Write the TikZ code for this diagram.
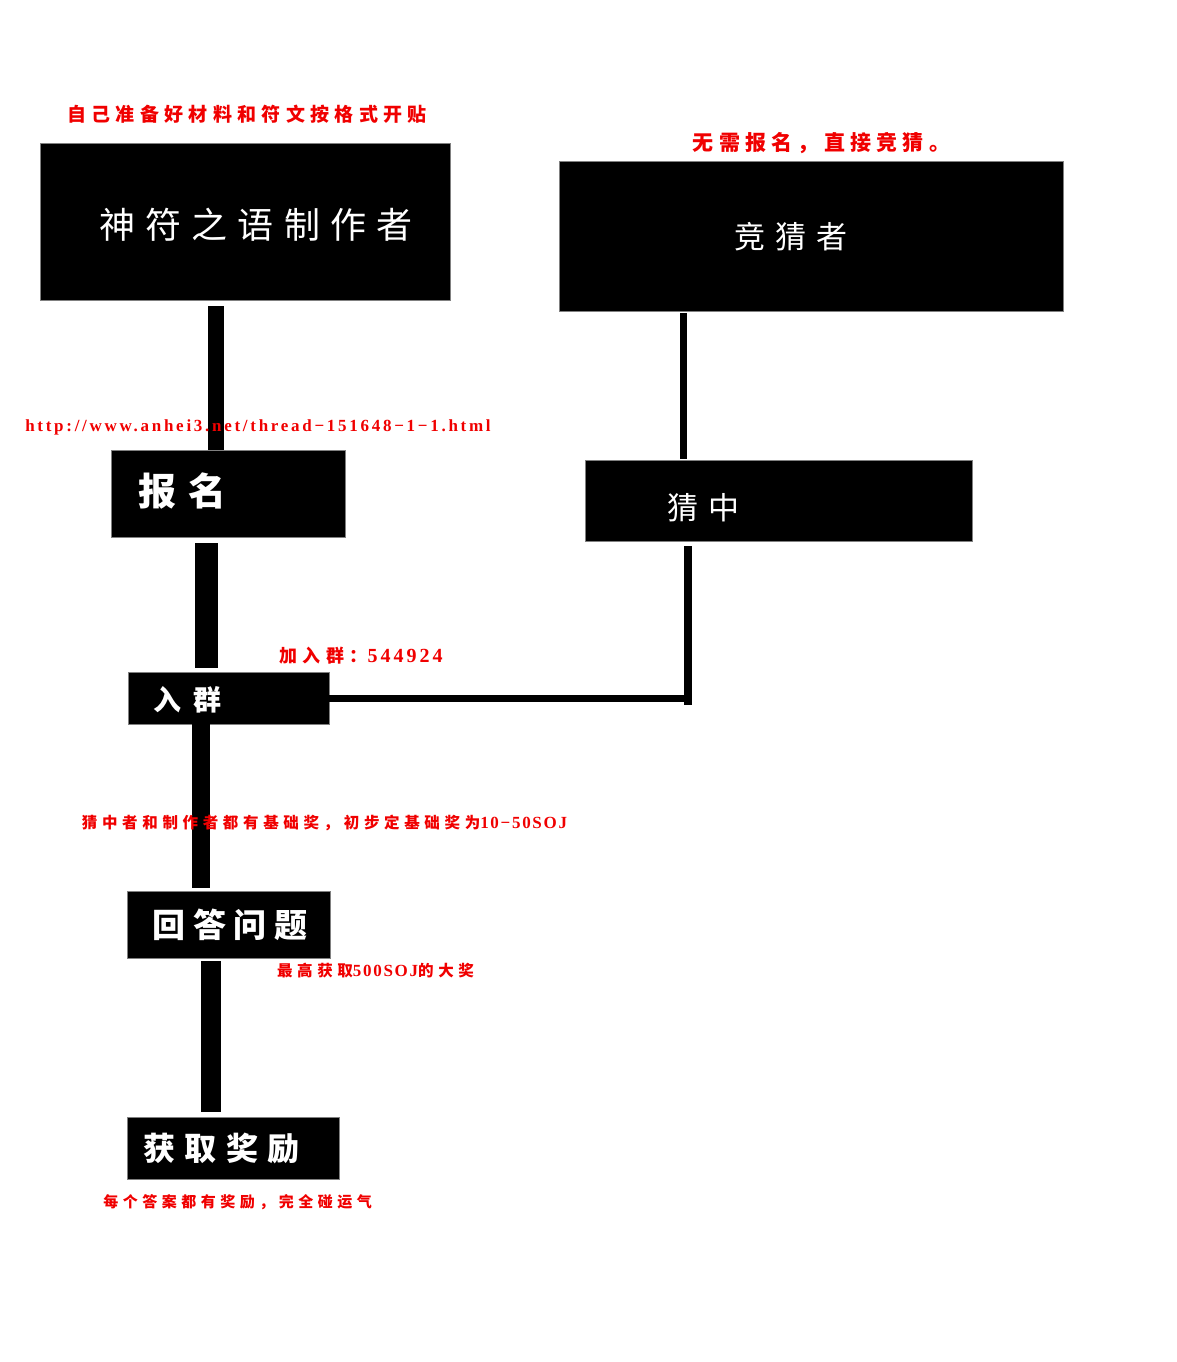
\documentclass[tikz,border=0pt]{standalone}
\usepackage{fontspec}
\setmainfont{Liberation Serif}
\newfontfamily\cjk{Noto Sans CJK SC}
\newfontfamily\lat{Liberation Serif}
\definecolor{lbl}{RGB}{240,0,0}
\definecolor{edge}{RGB}{128,128,128}
\begin{document}
\begin{tikzpicture}[x=1pt,y=-1pt,
  box/.style={fill=black, draw=edge, line width=0.7pt, inner sep=0pt},
  wt/.style={text=white, inner sep=0pt, anchor=center},
  rl/.style={text=lbl, inner sep=0pt, anchor=center},
  bar/.style={draw=black, line width=#1}]
\useasboundingbox (0,0) rectangle (1176,1362);
% boxes
\node[box, minimum width=410pt, minimum height=157pt] (b1) at (245,221.5) {};
\node[box, minimum width=504pt, minimum height=150pt] (b2) at (811,236) {};
\node[box, minimum width=234pt, minimum height=87pt] (b3) at (228,493.5) {};
\node[box, minimum width=387pt, minimum height=81pt] (b4) at (778.5,500.5) {};
\node[box, minimum width=201pt, minimum height=52pt] (b5) at (228.5,698) {};
\node[box, minimum width=203pt, minimum height=67pt] (b6) at (228.5,924.5) {};
\node[box, minimum width=212pt, minimum height=62pt] (b7) at (233,1148) {};
% connector x positions
\coordinate (x1) at (216,0);
\coordinate (x2) at (206.5,0);
\coordinate (x3) at (201,0);
\coordinate (x4) at (211,0);
\coordinate (x5) at (683.5,0);
\coordinate (x6) at (688,0);
\coordinate (e6) at (688,705);
\coordinate (j) at (684,698);
% connectors
\draw[bar=16pt, shorten <=6pt] (b1.south -| x1) -- (b3.north -| x1);
\draw[bar=23pt, shorten <=6pt, shorten >=4pt] (b3.south -| x2) -- (b5.north -| x2);
\draw[bar=18pt, shorten >=3pt] (b5.south -| x3) -- (b6.north -| x3);
\draw[bar=20pt, shorten <=3pt, shorten >=5pt] (b6.south -| x4) -- (b7.north -| x4);
\draw[bar=7pt, shorten <=2pt, shorten >=1pt] (b2.south -| x5) -- (b4.north -| x5);
\draw[bar=8pt, shorten <=5pt] (b4.south -| x6) -- (e6);
\draw[bar=7pt] (b5.east) -- (j);
% box texts
\node[wt, font={\cjk\fontsize{36}{36}\selectfont\addfontfeature{LetterSpace=28}}] (t1) at (256,225) {神符之语制作者};
\node[wt, font={\cjk\fontsize{31}{31}\selectfont\addfontfeature{LetterSpace=31}}] (t2) at (791,237) {竞猜者};
\node[wt, font={\cjk\bfseries\fontsize{38}{38}\selectfont\addfontfeature{LetterSpace=34}}] (t3) at (182.5,491) {报名};
\node[wt, font={\cjk\fontsize{31}{31}\selectfont\addfontfeature{LetterSpace=35}}] (t4) at (703.5,508) {猜中};
\node[wt, font={\cjk\bfseries\fontsize{28}{28}\selectfont\addfontfeature{LetterSpace=46}}] (t5) at (187.5,700) {入群};
\node[wt, font={\cjk\bfseries\fontsize{33}{33}\selectfont\addfontfeature{LetterSpace=24}}] (t6) at (230,925) {回答问题};
\node[wt, font={\cjk\bfseries\fontsize{32}{32}\selectfont\addfontfeature{LetterSpace=30}}] (t7) at (221.5,1148) {获取奖励};
% red labels
\node[rl, font={\cjk\bfseries\fontsize{19}{19}\selectfont\addfontfeature{LetterSpace=28}}] (r1) at (247,114.5) {自己准备好材料和符文按格式开贴};
\node[rl, font={\cjk\bfseries\fontsize{21}{21}\selectfont\addfontfeature{LetterSpace=25}}] (r2) at (821.5,143) {无需报名，直接竞猜。};
\node[rl, font={\lat\bfseries\fontsize{17}{17}\selectfont\addfontfeature{LetterSpace=16}}] (r3) at (258,427) {http://www.anhei3.net/thread−151648−1−1.html};
\node[rl] (r4) at (361,656) {{\cjk\bfseries\fontsize{18}{18}\selectfont\addfontfeature{LetterSpace=30}加入群：}{\lat\bfseries\fontsize{20}{20}\selectfont\addfontfeature{LetterSpace=15}544924}};
\node[rl] (r5) at (324.5,823) {{\cjk\bfseries\fontsize{15.5}{15.5}\selectfont\addfontfeature{LetterSpace=30}猜中者和制作者都有基础奖，初步定基础奖为}{\lat\bfseries\fontsize{17}{17}\selectfont\addfontfeature{LetterSpace=10}10−50SOJ}};
\node[rl] (r6) at (375.5,971) {{\cjk\bfseries\fontsize{15.5}{15.5}\selectfont\addfontfeature{LetterSpace=30}最高获取}{\lat\bfseries\fontsize{17}{17}\selectfont\addfontfeature{LetterSpace=10}500SOJ}{\cjk\bfseries\fontsize{15.5}{15.5}\selectfont\addfontfeature{LetterSpace=30}的大奖}};
\node[rl, font={\cjk\bfseries\fontsize{15}{15}\selectfont\addfontfeature{LetterSpace=30}}] (r7) at (237.5,1202) {每个答案都有奖励，完全碰运气};
\end{tikzpicture}
\end{document}
